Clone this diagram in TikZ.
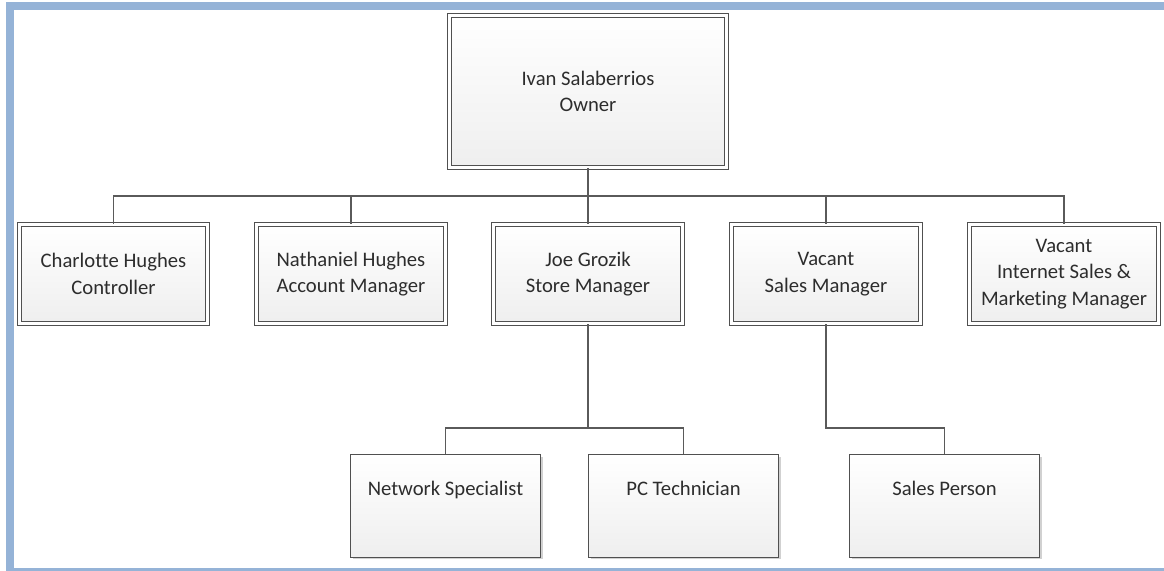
\documentclass[tikz,border=0pt]{standalone}
\usepackage{fontspec}
\setmainfont{Carlito}[Ligatures=NoCommon]
\usepackage{tikz}
\usetikzlibrary{shadows}
\definecolor{frameblue}{RGB}{149,179,215}
\definecolor{boxgray}{RGB}{80,80,80}
\definecolor{linegray}{RGB}{90,90,90}
\definecolor{textgray}{RGB}{45,45,45}
\tikzset{every picture/.style={x=0.75pt,y=-0.75pt},
  chartbox/.style={top color=white,bottom color=gray!13,align=center,inner sep=0pt,text=textgray,
    font=\fontsize{15.5}{20}\selectfont,
    drop shadow={shadow xshift=1.5pt,shadow yshift=-1.5pt,fill=black,opacity=0.18}},
  headbox/.style={chartbox,draw=boxgray,line width=0.75pt,double=white,double distance=2pt},
  staffbox/.style={chartbox,draw=boxgray,line width=0.9pt,minimum width=142.5pt,minimum height=77pt},
  link/.style={draw=linegray,line width=1.3pt}}

\begin{document}
\begin{tikzpicture}
\useasboundingbox (0,0) rectangle (1164,571);
% frame
\fill[frameblue] (6,2) rectangle (1164,10);
\fill[frameblue] (6,2) rectangle (14,568);
\fill[frameblue] (6,568) rectangle (1164,571);
% boxes
\node[headbox,minimum width=208pt,minimum height=114.4pt] (owner) at (588,91.5) {Ivan Salaberrios\\Owner};
\node[headbox,minimum width=141.4pt,minimum height=74.6pt] (charlotte) at (113.5,274) {Charlotte Hughes\\Controller};
\node[headbox,minimum width=141.4pt,minimum height=74.6pt] (nathaniel) at (351,274) {Nathaniel Hughes\\Account Manager};
\node[headbox,minimum width=141.4pt,minimum height=74.6pt] (joe) at (588,274) {Joe Grozik\\Store Manager};
\node[headbox,minimum width=141.4pt,minimum height=74.6pt] (salesmgr) at (826,274) {Vacant\\Sales Manager};
\node[headbox,minimum width=141.4pt,minimum height=74.6pt] (internet) at (1064,274) {Vacant\\Internet Sales \&\\Marketing Manager};
\node[staffbox] (network) at (445.5,506) {Network Specialist\\\strut};
\node[staffbox] (pctech) at (683.5,506) {PC Technician\\\strut};
\node[staffbox] (salesperson) at (944.5,506) {Sales Person\\\strut};
% connectors
\coordinate (bus) at (588,196);
\coordinate (storebus) at (588,428);
\coordinate (salesbus) at (944.5,428);
\draw[link] (owner.south) -- (bus);
\foreach \n in {charlotte,nathaniel,joe,salesmgr,internet}
  \draw[link] (\n.north) |- (bus);
\draw[link] (joe.south) -- (storebus);
\draw[link] (network.north) |- (storebus);
\draw[link] (pctech.north) |- (storebus);
\draw[link] (salesmgr.south) |- (salesbus) -- (salesperson.north);
\end{tikzpicture}
\end{document}
